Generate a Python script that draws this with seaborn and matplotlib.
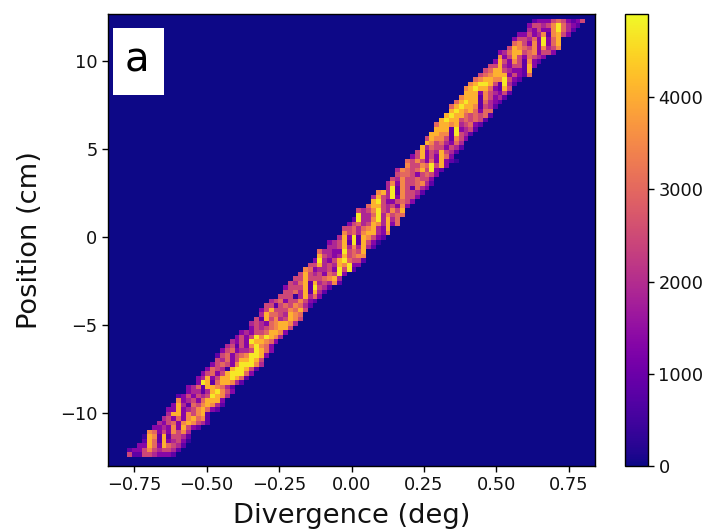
import numpy as np
import pandas as pd
import matplotlib
matplotlib.use("Agg")
import matplotlib.pyplot as plt
from matplotlib.patches import Rectangle
import seaborn as sns

N_BINS = 100
X_RANGE = (-0.84, 0.84)
Y_RANGE = (-13.0, 12.68)
LEVEL_COUNTS = [0, 400, 850, 1350, 1900, 2450, 3000, 3500, 4050, 4700]
VMAX = 4900
X_TICKS = [-0.75, -0.5, -0.25, 0.0, 0.25, 0.5, 0.75]
Y_TICKS = [-10, -5, 0, 5, 10]
CBAR_TICKS = [0, 1000, 2000, 3000, 4000]

# first occupied column of each occupied row, rows 2..98 counted from the bottom
FIRST_ROW = 2
ROW_START = [4, 4, 6, 7, 7, 8, 9, 10, 11, 12, 12, 13, 14, 14, 16, 16, 18, 18, 19, 20,
             21, 22, 22, 23, 24, 25, 26, 27, 29, 29, 30, 31, 31, 32, 33, 35, 36, 36, 37, 38,
             39, 40, 41, 42, 43, 43, 45, 45, 47, 48, 48, 49, 50, 51, 51, 53, 54, 54, 55, 57,
             57, 58, 59, 59, 61, 61, 62, 63, 64, 65, 65, 66, 67, 67, 68, 69, 70, 70, 71, 72,
             73, 73, 74, 75, 76, 77, 78, 79, 80, 80, 82, 83, 83, 84, 86, 86, 87]

# intensity of each row, one digit per cell, in colour steps
ROW_LEVELS = [
    "5225543332", "23357545542", "3386386542", "2862834531", "1872825542",
    "763537574", "3343738532", "43563787542", "4536378672", "488375782",
    "33834578632", "38426578742", "7345368883", "23535459874", "3442489753",
    "3462887642", "3982688742", "34835889862", "35635899963", "36541899852",
    "35653799974", "5463588985", "25635679983", "35634459863", "4525379763",
    "4353988763", "3535979874", "3435568873", "354567885", "4543678874",
    "5285745875", "486654876", "3585557685", "5525657642", "4563557532",
    "555148463", "556482842", "3555829542", "54682845472", "5585556784",
    "5854536593", "76344539592", "55845487933", "39435896552", "8543485677",
    "6443395658", "4458474842", "34582928531", "4839287532", "7564788437",
    "5564678438", "35645874836", "2944794846", "9446947566", "5457954758",
    "688545373", "895335653", "4854937553", "7849275542", "492752643",
    "4737556742", "547556553", "566535653", "4765685932", "755769583",
    "65753638321", "358353863", "583548542", "846553542", "87564364",
    "587752753", "887729542", "888293452", "6887845632", "8988565652",
    "8988656562", "898786366", "6898872542", "6898826432", "7888275342",
    "8883754352", "7898863285", "7899852942", "6788779532", "56788835326",
    "5688543328", "5584355283", "3853752732", "7358536543", "346885673553",
    "58765737457", "6753739368", "3554639368", "33534727853", "4353379642",
    "35545796432", "23335653235",
]

counts = np.zeros((N_BINS, N_BINS))
for i, (start, levels) in enumerate(zip(ROW_START, ROW_LEVELS)):
    for j, ch in enumerate(levels):
        counts[FIRST_ROW + i, start + j] = LEVEL_COUNTS[int(ch)]

x_edges = np.linspace(*X_RANGE, N_BINS + 1)
y_edges = np.linspace(*Y_RANGE, N_BINS + 1)
frame = pd.DataFrame(counts, index=(y_edges[:-1] + y_edges[1:]) / 2,
                     columns=(x_edges[:-1] + x_edges[1:]) / 2)

W, H = 713, 529
fig = plt.figure(figsize=(W / 100, H / 100), dpi=100)
ax = fig.add_axes([108 / W, (H - 466) / H, 487 / W, 452 / H])
cax = fig.add_axes([625 / W, (H - 466) / H, 23 / W, 452 / H])

sns.heatmap(frame, ax=ax, cbar_ax=cax, cmap="plasma", vmin=0, vmax=VMAX,
            xticklabels=False, yticklabels=False, rasterized=True)
ax.set_ylim(0, N_BINS)
ax.set_xlim(0, N_BINS)


def to_col(v):
    return (v - X_RANGE[0]) / (X_RANGE[1] - X_RANGE[0]) * N_BINS


def to_row(v):
    return (v - Y_RANGE[0]) / (Y_RANGE[1] - Y_RANGE[0]) * N_BINS


minus = "\u2212"
ax.set_xticks([to_col(v) for v in X_TICKS])
ax.set_xticklabels([f"{v:.2f}".replace("-", minus) for v in X_TICKS], rotation=0)
ax.set_yticks([to_row(v) for v in Y_TICKS])
ax.set_yticklabels([str(v).replace("-", minus) for v in Y_TICKS], rotation=0)
ax.tick_params(labelsize=12.8, length=4, width=1, color="black", labelcolor="#111111",
               left=True, bottom=True)
ax.set_xlabel("Divergence (deg)", fontsize=19.6, color="#111111", labelpad=6)
ax.set_ylabel("Position (cm)", fontsize=19.6, color="#111111", labelpad=12)
for spine in ax.spines.values():
    spine.set_visible(True)
    spine.set_color("black")
    spine.set_linewidth(1)

ax.add_patch(Rectangle((5 / 487, 1 - 81 / 452), 51 / 487, 67 / 452, transform=ax.transAxes,
                       facecolor="white", edgecolor="none", zorder=5))
ax.text(29 / 487, 1 - 46 / 452, "a", transform=ax.transAxes, fontsize=29, color="black",
        ha="center", va="center", zorder=6)

cbar = ax.collections[0].colorbar
cbar.set_ticks(CBAR_TICKS)
cbar.ax.tick_params(labelsize=12.8, length=4, width=1, color="black", labelcolor="#111111")
cbar.outline.set_visible(True)
cbar.outline.set_edgecolor("black")
cbar.outline.set_linewidth(1)

fig.savefig("out.png", dpi=100)
